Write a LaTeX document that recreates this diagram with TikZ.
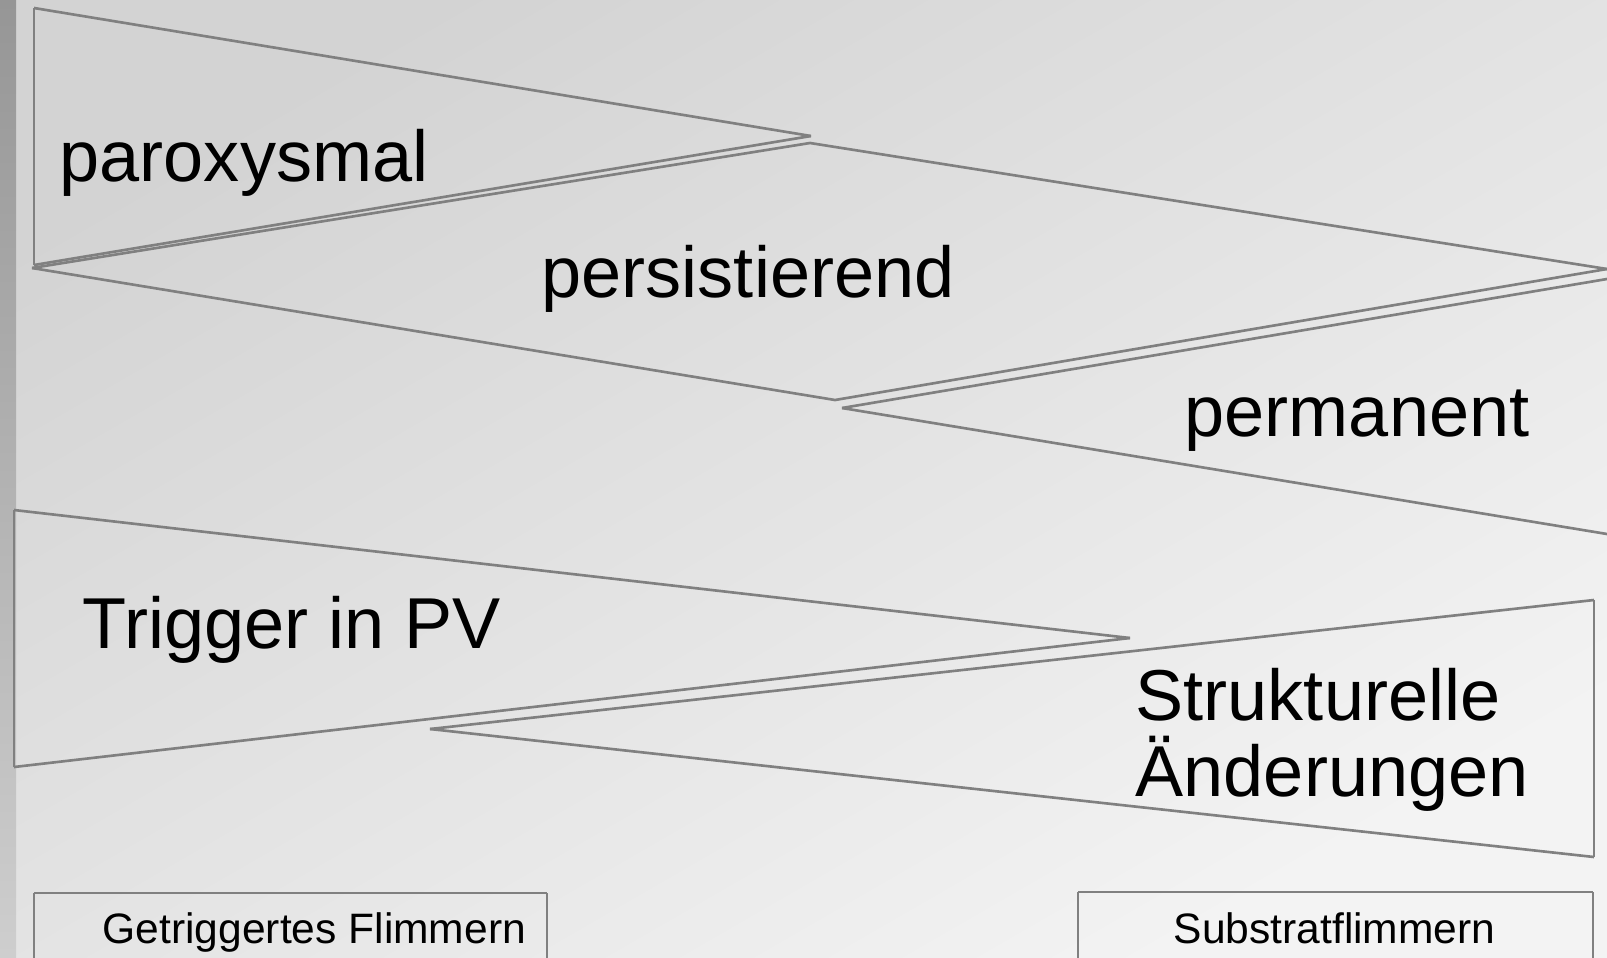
\documentclass[tikz,border=0pt]{standalone}
\usepackage{fontspec}
\setmainfont{Liberation Sans}
\usepackage{tikz}
\usetikzlibrary{backgrounds}
\definecolor{lgray}{RGB}{128,128,128}
\definecolor{bgdark}{RGB}{211,211,211}
\definecolor{bglight}{RGB}{243,243,243}
\definecolor{stripdark}{RGB}{150,150,150}
\definecolor{striplight}{RGB}{206,206,206}
\tikzstyle{simple}=[-,draw=lgray,line width=0.75pt]
\tikzstyle{none}=[inner sep=0pt]
\tikzstyle{biglabel}=[inner sep=0pt,anchor=base west,font=\fontsize{20.5}{22}\selectfont]
\tikzstyle{smalllabel}=[inner sep=0pt,anchor=base west,font=\fontsize{12.1}{14}\selectfont]
\pgfdeclarelayer{edgelayer}
\pgfdeclarelayer{nodelayer}
\pgfsetlayers{background,edgelayer,nodelayer,main}

\begin{document}
\begin{tikzpicture}[x=0.01cm,y=-0.01cm]
	\useasboundingbox (0,0) rectangle (1607,957);
	\begin{pgfonlayer}{background}
		\shade [top color=bgdark, bottom color=bglight, shading angle=30] (0,0) rectangle (1607,957);
		\shade [top color=stripdark, bottom color=striplight] (0,0) rectangle (16,957);
	\end{pgfonlayer}
	\begin{pgfonlayer}{nodelayer}
		\node [style=none] (0) at (34, 8) {};
		\node [style=none] (1) at (811, 136) {};
		\node [style=none] (2) at (34, 265) {};
		\node [style=none] (3) at (32, 268) {};
		\node [style=none] (4) at (810, 143) {};
		\node [style=none] (5) at (1607, 269) {};
		\node [style=none] (6) at (835, 400) {};
		\node [style=none] (7) at (842, 408) {};
		\node [style=none] (8) at (1607, 279) {};
		\node [style=none] (9) at (1607, 534) {};
		\node [style=none] (10) at (14, 510) {};
		\node [style=none] (11) at (1130, 638) {};
		\node [style=none] (12) at (14, 767) {};
		\node [style=none] (13) at (430, 729) {};
		\node [style=none] (14) at (1594, 600) {};
		\node [style=none] (15) at (1594, 857) {};
		\node [style=none] (16) at (34, 975) {};
		\node [style=none] (17) at (34, 893) {};
		\node [style=none] (18) at (547, 893) {};
		\node [style=none] (19) at (547, 975) {};
		\node [style=none] (20) at (1078, 975) {};
		\node [style=none] (21) at (1078, 892) {};
		\node [style=none] (22) at (1593, 892) {};
		\node [style=none] (23) at (1593, 975) {};
		\node [style=biglabel] (30) at (59, 181) {paroxysmal};
		\node [style=biglabel] (31) at (541, 297) {persistierend};
		\node [style=biglabel] (32) at (1184, 436) {permanent};
		\node [style=biglabel] (33) at (82, 648) {Trigger in PV};
		\node [style=biglabel] (34) at (1135, 720) {Strukturelle};
		\node [style=biglabel] (35) at (1135, 796) {Änderungen};
		\node [style=smalllabel] (36) at (102, 943) {Getriggertes Flimmern};
		\node [style=smalllabel] (37) at (1173, 943) {Substratflimmern};
	\end{pgfonlayer}
	\begin{pgfonlayer}{edgelayer}
		\draw [style=simple] (0.center) to (1.center);
		\draw [style=simple] (1.center) to (2.center);
		\draw [style=simple] (2.center) to (0.center);
		\draw [style=simple] (3.center) to (4.center);
		\draw [style=simple] (4.center) to (5.center);
		\draw [style=simple] (5.center) to (6.center);
		\draw [style=simple] (6.center) to (3.center);
		\draw [style=simple] (8.center) to (7.center);
		\draw [style=simple] (7.center) to (9.center);
		\draw [style=simple] (10.center) to (11.center);
		\draw [style=simple] (11.center) to (12.center);
		\draw [style=simple] (12.center) to (10.center);
		\draw [style=simple] (13.center) to (14.center);
		\draw [style=simple] (14.center) to (15.center);
		\draw [style=simple] (15.center) to (13.center);
		\draw [style=simple] (16.center) to (17.center);
		\draw [style=simple] (17.center) to (18.center);
		\draw [style=simple] (18.center) to (19.center);
		\draw [style=simple] (20.center) to (21.center);
		\draw [style=simple] (21.center) to (22.center);
		\draw [style=simple] (22.center) to (23.center);
	\end{pgfonlayer}
\end{tikzpicture}
\end{document}
